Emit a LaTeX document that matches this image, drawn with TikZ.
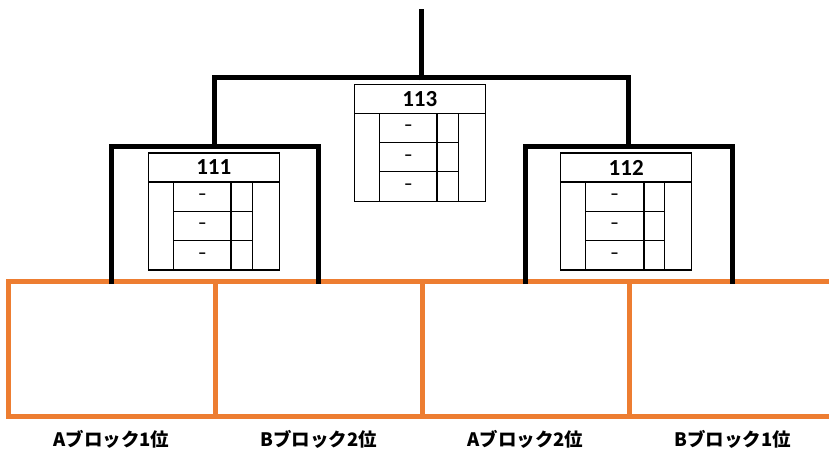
\documentclass[tikz,border=0pt]{standalone}
\usepackage{fontspec}
\setmainfont{Carlito}
\newfontfamily\jpfont{Noto Sans CJK JP}
\usepackage{tikz}
\usetikzlibrary{positioning}
\definecolor{blockorange}{HTML}{ED7D31}
\tikzstyle{block} = [rectangle, draw=blockorange, line width=5pt, minimum width=207pt, minimum height=135pt, outer sep=0pt, inner sep=0pt]
\tikzstyle{rank} = [font=\jpfont\bfseries\fontsize{18.5}{20}\selectfont]
\tikzstyle{head} = [rectangle, draw=black, line width=1.2pt, minimum width=131pt, minimum height=29pt, outer sep=0pt, inner sep=0pt, font=\bfseries\fontsize{23}{24}\selectfont]
\tikzstyle{body} = [rectangle, draw=black, line width=1.2pt, minimum width=131pt, minimum height=88pt, outer sep=0pt, inner sep=0pt]
\tikzstyle{cell} = [rectangle, draw=black, line width=1pt, minimum width=58pt, minimum height=29.33pt, outer sep=0pt, inner sep=0pt, font=\bfseries\fontsize{17}{17}\selectfont]
\tikzstyle{side} = [rectangle, draw=black, line width=1pt, minimum width=21pt, minimum height=29.33pt, outer sep=0pt, inner sep=0pt]
\tikzstyle{midline} = [line width=2pt]
\tikzstyle{bracket} = [line width=5pt, shorten <=-2.5pt, shorten >=-2.5pt]

\begin{document}
\begin{tikzpicture}[x=1pt, y=-1pt]

\useasboundingbox (0,0) rectangle (829,457);

\node (blk1) [block] at (111.5,349) {};
\node (blk2) [block, right=0pt of blk1] {};
\node (blk3) [block, right=0pt of blk2] {};
\node (blk4) [block, right=0pt of blk3] {};

\node (l1) [rank, below=10pt of blk1] {Aブロック1位};
\node (l2) [rank, below=10pt of blk2] {Bブロック2位};
\node (l3) [rank, below=10pt of blk3] {Aブロック2位};
\node (l4) [rank, below=10pt of blk4] {Bブロック1位};

\coordinate (root) at (421.5,11.5);
\coordinate (top) at (421.5,78);
\coordinate (m1) at (214.5,146.5);
\coordinate (m2) at (628.5,146.5);

\draw [bracket] (blk1.north) |- (m1) -| (blk2.north);
\draw [bracket] (blk3.north) |- (m2) -| (blk4.north);
\draw [bracket] (m1) |- (top) -| (m2);
\draw [bracket] (top) -- (root);

\node (h111) [head] at (213.8,167.5) {111};
\node (t111) [body, below=0pt of h111] {};
\node (c111a) [cell, below right=0pt and 25pt of t111.north west] {–};
\node (c111b) [cell, below=0pt of c111a] {–};
\node (c111c) [cell, below=0pt of c111b] {–};
\node (s111a) [side, right=0pt of c111a] {};
\node (s111b) [side, right=0pt of c111b] {};
\node (s111c) [side, right=0pt of c111c] {};
\draw [midline] (c111a.north east) -- (c111c.south east);

\node (h113) [head] at (419.8,98.8) {113};
\node (t113) [body, below=0pt of h113] {};
\node (c113a) [cell, below right=0pt and 25pt of t113.north west] {–};
\node (c113b) [cell, below=0pt of c113a] {–};
\node (c113c) [cell, below=0pt of c113b] {–};
\node (s113a) [side, right=0pt of c113a] {};
\node (s113b) [side, right=0pt of c113b] {};
\node (s113c) [side, right=0pt of c113c] {};
\draw [midline] (c113a.north east) -- (c113c.south east);

\node (h112) [head] at (626.2,167.5) {112};
\node (t112) [body, below=0pt of h112] {};
\node (c112a) [cell, below right=0pt and 25pt of t112.north west] {–};
\node (c112b) [cell, below=0pt of c112a] {–};
\node (c112c) [cell, below=0pt of c112b] {–};
\node (s112a) [side, right=0pt of c112a] {};
\node (s112b) [side, right=0pt of c112b] {};
\node (s112c) [side, right=0pt of c112c] {};
\draw [midline] (c112a.north east) -- (c112c.south east);

\end{tikzpicture}
\end{document}
